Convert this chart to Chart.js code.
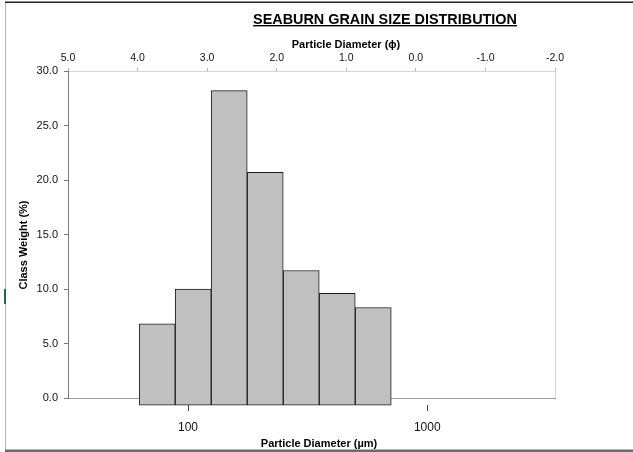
<!DOCTYPE html>
<html lang="en">
<head>
<meta charset="UTF-8">
<title>Seaburn Grain Size Distribution</title>
<script src="https://cdn.jsdelivr.net/npm/chart.js"></script>
<style>
    html, body { margin: 0; padding: 0; background: #fff; }
    .chart-box { position: relative; width: 633px; height: 452px; }
</style>
</head>
<body>
<div class="chart-box"><canvas id="grainChart"></canvas></div>
<script>
// Half-phi classes: fine and coarse limits (phi), weight of each class (%)
const phiFine = [4.0, 3.5, 3.0, 2.5, 2.0, 1.5, 1.0];
const phiCoarse = [3.5, 3.0, 2.5, 2.0, 1.5, 1.0, 0.5];
const classWeight = [6.8, 10.0, 28.2, 20.7, 11.7, 9.6, 8.3];

// Axis ticks
const phiTicks = [5.0, 4.0, 3.0, 2.0, 1.0, 0.0, -1.0, -2.0];
const umTicks = [100, 1000];
const weightTicks = [0, 5, 10, 15, 20, 25, 30];

const FONT = "'Liberation Sans', Arial, sans-serif";
Chart.defaults.font.family = FONT;

// phi -> micrometres (class centre = geometric mean of its limits)
const phiToUm = phi => 1000 * Math.pow(2, -phi);

// frame, main title and the axis titles (Excel places them off-centre)
const frameAndTitles = {
    id: 'frameAndTitles',
    beforeDraw(chart) {
        const ctx = chart.ctx;
        const a = chart.chartArea;
        ctx.save();
        ctx.fillStyle = '#fff';
        ctx.fillRect(0, 0, chart.width, chart.height);
        // light outline of the plot area
        ctx.strokeStyle = '#d6d6d6';
        ctx.lineWidth = 1;
        ctx.strokeRect(a.left + 0.5, a.top + 0.5, a.width, a.height);
        // outer chart frame
        ctx.strokeStyle = '#b4b4b4';
        ctx.beginPath();
        ctx.moveTo(5.5, 3);
        ctx.lineTo(5.5, 450);
        ctx.stroke();
        ctx.fillStyle = '#222';
        ctx.fillRect(5, 1.5, chart.width - 5, 1.5);
        ctx.fillStyle = '#6a6a6a';
        ctx.fillRect(5, 449.5, chart.width - 5, 2.5);
        ctx.fillStyle = '#1e7145';
        ctx.fillRect(4, 289, 2, 15);
        ctx.restore();
    },
    afterDraw(chart) {
        const ctx = chart.ctx;
        ctx.save();
        ctx.fillStyle = '#000';
        ctx.textAlign = 'center';
        // main title, underlined
        ctx.font = 'bold 14.4px ' + FONT;
        ctx.textBaseline = 'alphabetic';
        const t = 'SEABURN GRAIN SIZE DISTRIBUTION';
        const w = ctx.measureText(t).width;
        ctx.fillText(t, 385, 23.5);
        ctx.fillRect(385 - w / 2, 25, w, 1.4);
        // axis titles
        ctx.font = 'bold 11px ' + FONT;
        ctx.textBaseline = 'middle';
        ctx.fillText('Particle Diameter (\u03D5)', 346, 45);
        ctx.fillText('Particle Diameter (\u00B5m)', 319, 444);
        ctx.translate(24, 245);
        ctx.rotate(-Math.PI / 2);
        ctx.fillText('Class Weight (%)', 0, 0);
        ctx.restore();
    }
};

new Chart(document.getElementById('grainChart'), {
    type: 'bar',
    data: {
        datasets: [{
            label: 'Class Weight',
            data: classWeight.map((w, i) => ({ x: phiToUm((phiFine[i] + phiCoarse[i]) / 2), y: w })),
            backgroundColor: '#c0c0c0',
            borderColor: '#1c1c1c',
            borderWidth: 1,
            borderSkipped: false,
            barPercentage: 1,
            categoryPercentage: 1,
            base: -0.65,
            clip: false,
            xAxisID: 'x',
            yAxisID: 'y'
        }]
    },
    options: {
        responsive: true,
        maintainAspectRatio: false,
        animation: false,
        layout: { padding: { left: 0, right: 78, top: 0, bottom: 0 } },
        plugins: {
            legend: { display: false },
            tooltip: { enabled: false },
            title: { display: false }
        },
        scales: {
            x: {
                type: 'logarithmic',
                position: 'bottom',
                offset: false,
                min: 31.5,
                max: 3420,
                afterBuildTicks: s => { s.ticks = umTicks.map(v => ({ value: v })); },
                afterFit: s => { s.height = 54; },
                border: { display: true, color: '#a0a0a0' },
                grid: {
                    offset: false,
                    drawOnChartArea: false,
                    tickLength: 13,
                    color: '#444',
                    tickBorderDash: [6, 7],
                    tickBorderDashOffset: 7
                },
                ticks: {
                    color: '#111',
                    font: { size: 12 },
                    padding: 9,
                    maxRotation: 0,
                    autoSkip: false,
                    callback: v => String(v)
                }
            },
            phi: {
                type: 'linear',
                position: 'top',
                reverse: true,
                offset: false,
                min: -2,
                max: 5,
                afterBuildTicks: s => { s.ticks = phiTicks.map(v => ({ value: v })); },
                afterFit: s => { s.height = 71; },
                border: { color: '#d6d6d6' },
                grid: { offset: false, drawOnChartArea: false, tickLength: 3, color: '#b0b0b0' },
                ticks: {
                    color: '#111',
                    font: { size: 10.5 },
                    padding: 4,
                    maxRotation: 0,
                    autoSkip: false,
                    callback: v => v.toFixed(1)
                }
            },
            y: {
                min: 0,
                max: 30,
                afterBuildTicks: s => { s.ticks = weightTicks.map(v => ({ value: v })); },
                afterFit: s => { s.width = 68; },
                border: { color: '#7a7a7a' },
                grid: { drawOnChartArea: false, tickLength: 4, color: '#7a7a7a' },
                ticks: {
                    color: '#111',
                    font: { size: 11 },
                    padding: 6,
                    callback: v => v.toFixed(1)
                }
            }
        }
    },
    plugins: [frameAndTitles]
});
</script>
</body>
</html>
